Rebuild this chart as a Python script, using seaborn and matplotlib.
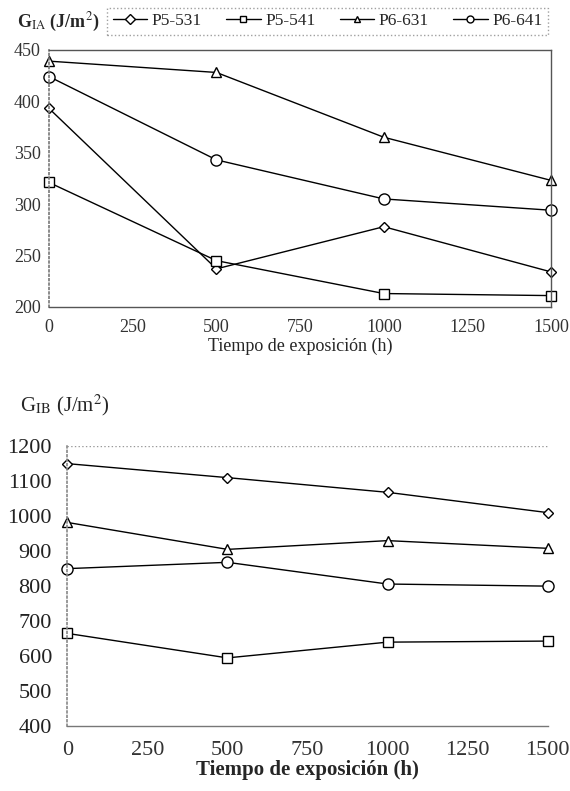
import numpy as np
import pandas as pd
import matplotlib
matplotlib.use("Agg")
import matplotlib.pyplot as plt
import seaborn as sns

# --- datos ---
tiempo = [0, 500, 1000, 1500]
series = ["P5-531", "P5-541", "P6-631", "P6-641"]
marcadores = {"P5-531": "D", "P5-541": "s", "P6-631": "^", "P6-641": "o"}
tam_marcador = {"P5-531": 5, "P5-541": 7, "P6-631": 7, "P6-641": 8}

g_ia_p5_531 = [393, 237, 278, 234]
g_ia_p5_541 = [321, 245, 213, 211]
g_ia_p6_631 = [439, 428, 365, 323]
g_ia_p6_641 = [424, 343, 305, 294]

g_ib_p5_531 = [1150, 1110, 1068, 1010]
g_ib_p5_541 = [665, 595, 640, 643]
g_ib_p6_631 = [982, 905, 930, 908]
g_ib_p6_641 = [850, 868, 806, 800]

ticks_x = [0, 250, 500, 750, 1000, 1250, 1500]
ticks_ia = [200, 250, 300, 350, 400, 450]
ticks_ib = [400, 500, 600, 700, 800, 900, 1000, 1100, 1200]


def tabla(valores):
    filas = []
    for nombre, vals in zip(series, valores):
        for t, v in zip(tiempo, vals):
            filas.append({"t": t, "G": v, "serie": nombre})
    return pd.DataFrame(filas)


df_ia = tabla([g_ia_p5_531, g_ia_p5_541, g_ia_p6_631, g_ia_p6_641])
df_ib = tabla([g_ib_p5_531, g_ib_p5_541, g_ib_p6_631, g_ib_p6_641])

sns.set_style("white")
plt.rcParams["font.family"] = ["Liberation Serif", "DejaVu Serif"]
plt.rcParams["mathtext.fontset"] = "stix"

fig = plt.figure(figsize=(5.7, 7.91), dpi=100)
ax1 = fig.add_axes([0.086, 0.612, 0.881, 0.325])
ax2 = fig.add_axes([0.118, 0.082, 0.843, 0.354])


def dibujar(ax, df):
    for nombre in series:
        d = df[df["serie"] == nombre]
        sns.lineplot(
            data=d, x="t", y="G", ax=ax, color="black", linewidth=1.0,
            marker=marcadores[nombre], markersize=tam_marcador[nombre],
            markerfacecolor="white", markeredgecolor="black",
            markeredgewidth=1.0, label=nombre, legend=False, clip_on=False,
        )


# --- grafico superior: G_IA ---
dibujar(ax1, df_ia)
ax1.set_xlim(0, 1500)
ax1.set_ylim(200, 450)
ax1.set_xticks(ticks_x)
ax1.set_yticks(ticks_ia)
ax1.tick_params(labelsize=13, length=0, pad=6, colors="#333333")
ax1.tick_params(axis="x", pad=9)
ax1.set_xlabel("Tiempo de exposición (h)", fontsize=13, labelpad=1)
ax1.set_ylabel("")
for lado in ["top", "right", "bottom"]:
    ax1.spines[lado].set_color("#555555")
    ax1.spines[lado].set_linewidth(1.0)
ax1.spines["left"].set_color("#777777")
ax1.spines["left"].set_linestyle(":")
ax1.spines["left"].set_linewidth(1.2)
ax1.grid(False)

fig.text(0.03, 0.972, r"G$_{\rm IA}$ (J/m$^2$)", fontsize=13,
         fontweight="bold", va="center", ha="left")

handles, labels = ax1.get_legend_handles_labels()
ley = fig.legend(handles, labels, loc="center right", ncol=4,
                 bbox_to_anchor=(0.976, 0.973), fontsize=12.5,
                 frameon=True, handlelength=2.0, handletextpad=0.25,
                 columnspacing=1.4, borderpad=0.3, fancybox=False)
ley.get_frame().set_edgecolor("#888888")
ley.get_frame().set_linestyle(":")
ley.get_frame().set_linewidth(1.0)
for h in ley.legend_handles:
    h.set_markersize(5)

# --- grafico inferior: G_IB ---
dibujar(ax2, df_ib)
ax2.set_xlim(0, 1500)
ax2.set_ylim(400, 1200)
ax2.set_xticks(ticks_x)
ax2.set_yticks(ticks_ib)
ax2.tick_params(axis="x", labelsize=16, length=0, pad=11, colors="#333333")
ax2.tick_params(axis="y", labelsize=16, length=4, direction="inout",
                width=0.6, pad=9, colors="#222222")
ax2.tick_params(axis="y", color="#999999")
ax2.set_xlabel("Tiempo de exposición (h)", fontsize=15, fontweight="bold",
               labelpad=0)
ax2.set_ylabel("")
ax2.spines["top"].set_visible(False)
ax2.spines["right"].set_visible(False)
ax2.spines["bottom"].set_color("#777777")
ax2.spines["bottom"].set_linewidth(1.0)
ax2.spines["left"].set_color("#888888")
ax2.spines["left"].set_linestyle(":")
ax2.spines["left"].set_linewidth(1.2)
ax2.axhline(1200, color="#999999", linestyle=":", linewidth=1.0)
ax2.grid(False)

fig.text(0.035, 0.488, r"G$_{\rm IB}$ (J/m$^2$)", fontsize=15,
         va="center", ha="left")

fig.savefig("out.png", dpi=100)
